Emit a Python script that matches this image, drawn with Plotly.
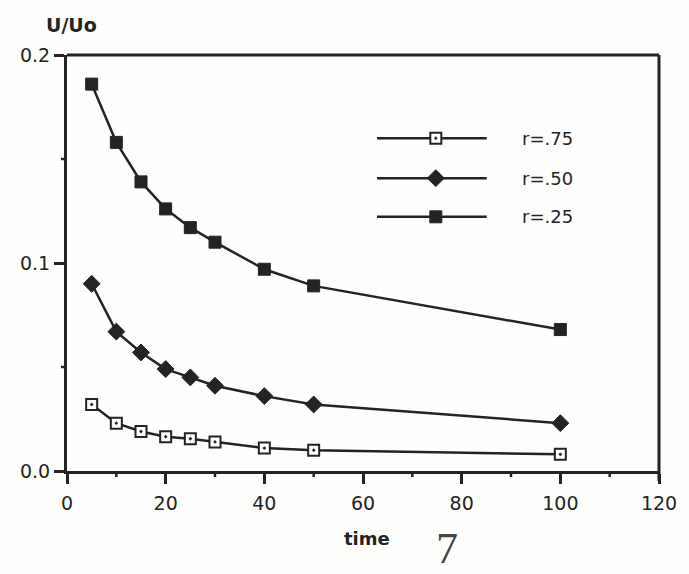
import plotly.graph_objects as go

# ---- data ----
time = [5, 10, 15, 20, 25, 30, 40, 50, 100]
r75 = [0.032, 0.023, 0.019, 0.0165, 0.0155, 0.014, 0.011, 0.010, 0.008]
r50 = [0.090, 0.067, 0.057, 0.049, 0.045, 0.041, 0.036, 0.032, 0.023]
r25 = [0.186, 0.158, 0.139, 0.126, 0.117, 0.110, 0.097, 0.089, 0.068]
series_names = ["r=.75", "r=.50", "r=.25"]
x_ticks = [0, 20, 40, 60, 80, 100, 120]
x_minor = [10, 30, 50, 70, 90, 110]
y_ticks = [0.0, 0.1, 0.2]
y_ticklabels = ["0.0", "0.1", "0.2"]
y_minor = [0.05, 0.15]

INK = "#232323"
FONT = "DejaVu Sans"
PLOT_W, PLOT_H = 594, 416

styles = [
    dict(symbol="square-dot", size=11, color="white", line=dict(color=INK, width=2)),
    dict(symbol="diamond", size=13, color=INK, line=dict(color=INK, width=1)),
    dict(symbol="square", size=12, color=INK, line=dict(color=INK, width=1)),
]

fig = go.Figure()
for name, ys, st in zip(series_names, [r75, r50, r25], styles):
    fig.add_trace(go.Scatter(x=time, y=ys, mode="lines+markers", name=name,
                             line=dict(color=INK, width=2.5), marker=st,
                             showlegend=False, cliponaxis=False))

leg_rows = [0.800, 0.704, 0.611]
leg_x0, leg_x1, leg_xm, leg_xt = 0.5236, 0.709, 0.623, 0.765
for name, st, yr in zip(series_names, styles, leg_rows):
    fig.add_trace(go.Scatter(x=[leg_x0, leg_x1], y=[yr, yr], mode="lines",
                             line=dict(color=INK, width=2.5), xaxis="x3", yaxis="y3",
                             showlegend=False, hoverinfo="skip"))
    fig.add_trace(go.Scatter(x=[leg_xm], y=[yr], mode="markers", marker=st,
                             xaxis="x3", yaxis="y3", showlegend=False, hoverinfo="skip"))
    fig.add_annotation(x=leg_xt, y=yr, xref="x3", yref="y3", text=name,
                       showarrow=False, xanchor="left", yanchor="middle",
                       font=dict(family=FONT, size=18, color=INK))

axis_common = dict(showline=True, linecolor=INK, linewidth=3, mirror=False,
                   showgrid=False, zeroline=False, ticks="outside",
                   tickcolor=INK, tickwidth=2.5, ticklen=10,
                   tickfont=dict(family=FONT, size=19, color=INK))

shapes = [
    # top and right frame edges
    dict(type="line", xref="paper", yref="paper", x0=0, x1=1, y0=1, y1=1,
         line=dict(color=INK, width=3)),
    dict(type="line", xref="paper", yref="paper", x0=1, x1=1, y0=1, y1=-10 / PLOT_H,
         line=dict(color=INK, width=3)),
]
for v in x_minor:
    shapes.append(dict(type="line", xref="x", yref="paper", x0=v, x1=v,
                       y0=0, y1=-6 / PLOT_H, line=dict(color=INK, width=2.5)))
for v in y_minor:
    shapes.append(dict(type="line", xref="paper", yref="y", y0=v, y1=v,
                       x0=0, x1=-6 / PLOT_W, line=dict(color=INK, width=2.5)))

fig.update_layout(
    width=689, height=574,
    margin=dict(l=67, r=28, t=55, b=103),
    paper_bgcolor="#fefefd", plot_bgcolor="#fefefd",
    xaxis=dict(range=[0, 120], tickvals=x_ticks, ticklabelstandoff=3, **axis_common),
    yaxis=dict(range=[0, 0.2], tickvals=y_ticks, ticktext=y_ticklabels, **axis_common),
    xaxis3=dict(range=[0, 1], overlaying="x", visible=False),
    yaxis3=dict(range=[0, 1], overlaying="y", visible=False),
    shapes=shapes,
)

fig.add_annotation(xref="paper", yref="paper", x=(72 - 67) / PLOT_W, y=1 + (55 - 25) / PLOT_H,
                   text="<b>U/Uo</b>", showarrow=False, xanchor="center", yanchor="middle",
                   font=dict(family=FONT, size=19, color=INK))
fig.add_annotation(xref="paper", yref="paper", x=(368 - 67) / PLOT_W, y=-(538 - 471) / PLOT_H,
                   text="<b>time</b>", showarrow=False, xanchor="center", yanchor="middle",
                   font=dict(family=FONT, size=18, color=INK))
fig.add_annotation(xref="paper", yref="paper", x=(448 - 67) / PLOT_W, y=-(548 - 471) / PLOT_H,
                   text="7", showarrow=False, xanchor="center", yanchor="middle",
                   font=dict(family="Liberation Serif", size=44, color="#444"))

fig.write_html("out.html")
